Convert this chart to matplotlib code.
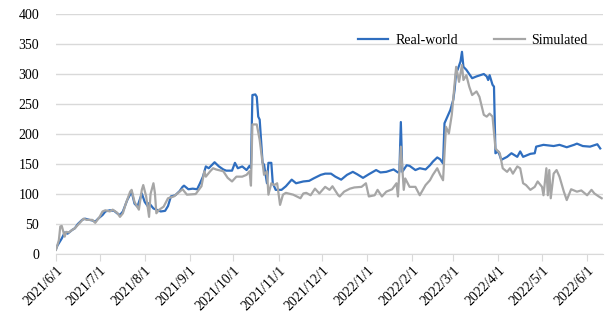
import matplotlib
matplotlib.use('Agg')
import matplotlib.pyplot as plt
import matplotlib.dates as mdates
import pandas as pd

# data: day offset from 2021/6/1 and value
start = pd.Timestamp('2021-06-01')

real_days = [0, 1, 3, 4, 6, 8, 11, 13, 15, 18, 20, 23, 25, 27, 29, 32, 34, 37, 40, 42,
             44, 46, 49, 52, 54, 56, 59, 61, 63, 64, 67, 69, 72, 75, 77, 79, 82, 85, 87, 88,
             91, 94, 97, 99, 101, 103, 105, 107, 109, 112, 115, 117, 121, 123, 125, 128, 131, 133, 134, 135,
             137, 138, 139, 140, 142, 143, 145, 146, 148, 149, 151, 155, 158, 162, 165, 170, 174, 177, 182, 185,
             189, 192, 196, 200, 204, 207, 211, 215, 220, 223, 227, 232, 235, 236, 237, 238, 241, 243, 247, 250,
             254, 257, 259, 262, 264, 266, 267, 269, 271, 273, 274, 275, 276, 278, 279, 280, 282, 286, 289, 294,
             296, 297, 298, 300, 301, 302, 304, 306, 310, 313, 317, 319, 321, 326, 329, 330, 335, 342, 346, 351,
             356, 358, 362, 367, 372, 374]
real_vals = [8, 14, 22, 26, 36, 34, 40, 43, 50, 57, 59, 57, 56, 54, 59, 65, 71, 73, 72, 68,
             65, 71, 90, 104, 84, 79, 101, 87, 80, 85, 76, 74, 71, 72, 80, 96, 98, 105, 112, 114,
             108, 109, 108, 118, 129, 146, 143, 148, 153, 146, 141, 139, 139, 152, 143, 146, 140, 147, 143, 265,
             266, 262, 229, 224, 152, 149, 118, 152, 152, 118, 107, 107, 113, 124, 118, 121, 122, 126, 132, 134,
             134, 129, 124, 132, 137, 133, 127, 133, 140, 136, 137, 141, 136, 137, 220, 137, 148, 147, 140, 143,
             141, 148, 154, 161, 158, 151, 218, 229, 240, 257, 275, 304, 307, 321, 337, 312, 307, 293, 296, 300,
             296, 290, 298, 282, 279, 168, 171, 157, 162, 168, 162, 171, 162, 167, 168, 179, 182, 180, 182, 178,
             182, 184, 180, 179, 183, 176]

sim_days = [0, 1, 2, 3, 4, 6, 7, 9, 11, 13, 16, 19, 21, 25, 27, 30, 32, 34, 37, 39,
            42, 44, 46, 48, 51, 52, 54, 57, 59, 60, 62, 64, 65, 67, 68, 69, 71, 74, 77, 81,
            85, 87, 90, 96, 100, 102, 103, 106, 108, 110, 115, 118, 121, 124, 128, 131, 133, 134, 135, 138,
            140, 142, 143, 145, 146, 148, 150, 152, 154, 156, 158, 163, 168, 170, 172, 175, 178, 181, 185, 188,
            190, 194, 195, 198, 202, 205, 210, 213, 215, 219, 221, 224, 227, 231, 234, 235, 237, 239, 240, 243,
            247, 250, 254, 257, 259, 262, 264, 266, 268, 270, 272, 275, 277, 279, 280, 282, 284, 286, 289, 291,
            294, 296, 298, 300, 302, 305, 307, 310, 312, 314, 317, 319, 321, 323, 326, 329, 331, 334, 335, 337,
            338, 339, 340, 342, 344, 346, 349, 351, 354, 358, 361, 365, 368, 370, 373, 375]
sim_vals = [7, 15, 23, 46, 47, 29, 37, 36, 40, 43, 51, 59, 57, 57, 52, 62, 71, 73, 71, 74,
            69, 62, 68, 84, 104, 107, 87, 74, 107, 115, 96, 62, 100, 118, 102, 68, 74, 79, 93, 96,
            104, 108, 99, 100, 113, 138, 129, 138, 143, 141, 138, 127, 121, 129, 129, 132, 138, 114, 216, 216,
            190, 152, 132, 138, 99, 118, 115, 118, 82, 99, 102, 99, 93, 101, 102, 98, 109, 101, 112, 107,
            113, 98, 96, 104, 109, 111, 112, 118, 96, 98, 107, 96, 104, 108, 118, 96, 179, 107, 126, 112,
            112, 98, 115, 123, 132, 143, 132, 123, 212, 201, 232, 312, 287, 315, 290, 298, 279, 265, 271, 262,
            232, 229, 234, 229, 176, 168, 143, 137, 143, 134, 146, 143, 118, 115, 107, 112, 121, 112, 98, 143,
            98, 140, 93, 134, 140, 129, 104, 90, 108, 104, 106, 98, 107, 101, 96, 93]

real_dates = [start + pd.Timedelta(days=d) for d in real_days]
sim_dates = [start + pd.Timedelta(days=d) for d in sim_days]

plt.rcParams['font.family'] = ['Liberation Serif', 'DejaVu Serif']

fig = plt.figure(figsize=(6.08, 3.18), dpi=100)
ax = fig.add_axes([0.092, 0.201, 0.9, 0.755])

ax.plot(real_dates, real_vals, color='#2f6ebf', lw=1.6, label='Real-world')
ax.plot(sim_dates, sim_vals, color='#a6a6a6', lw=1.6, label='Simulated')

ax.set_ylim(0, 400)
ax.set_yticks(range(0, 401, 50))
ax.set_xlim(start, start + pd.Timedelta(days=376))
ax.xaxis.set_major_locator(mdates.MonthLocator())
ax.xaxis.set_major_formatter(plt.FuncFormatter(
    lambda v, pos: '{0.year}/{0.month}/{0.day}'.format(mdates.num2date(v))))

ax.grid(axis='y', color='#d9d9d9', lw=1)
ax.set_axisbelow(True)
for s in ['top', 'right', 'left']:
    ax.spines[s].set_visible(False)
ax.spines['bottom'].set_color('#d9d9d9')
ax.tick_params(axis='y', length=0, pad=12, labelsize=10)
ax.tick_params(axis='x', length=5, color='#d9d9d9', labelsize=10, pad=2)
plt.setp(ax.get_xticklabels(), rotation=45, ha='right', rotation_mode='anchor')

ax.legend(loc='upper right', bbox_to_anchor=(0.995, 0.97), ncol=2, frameon=False,
          fontsize=10, handlelength=2.2, handletextpad=0.5, columnspacing=2.6)

plt.savefig('out.png', dpi=100)
